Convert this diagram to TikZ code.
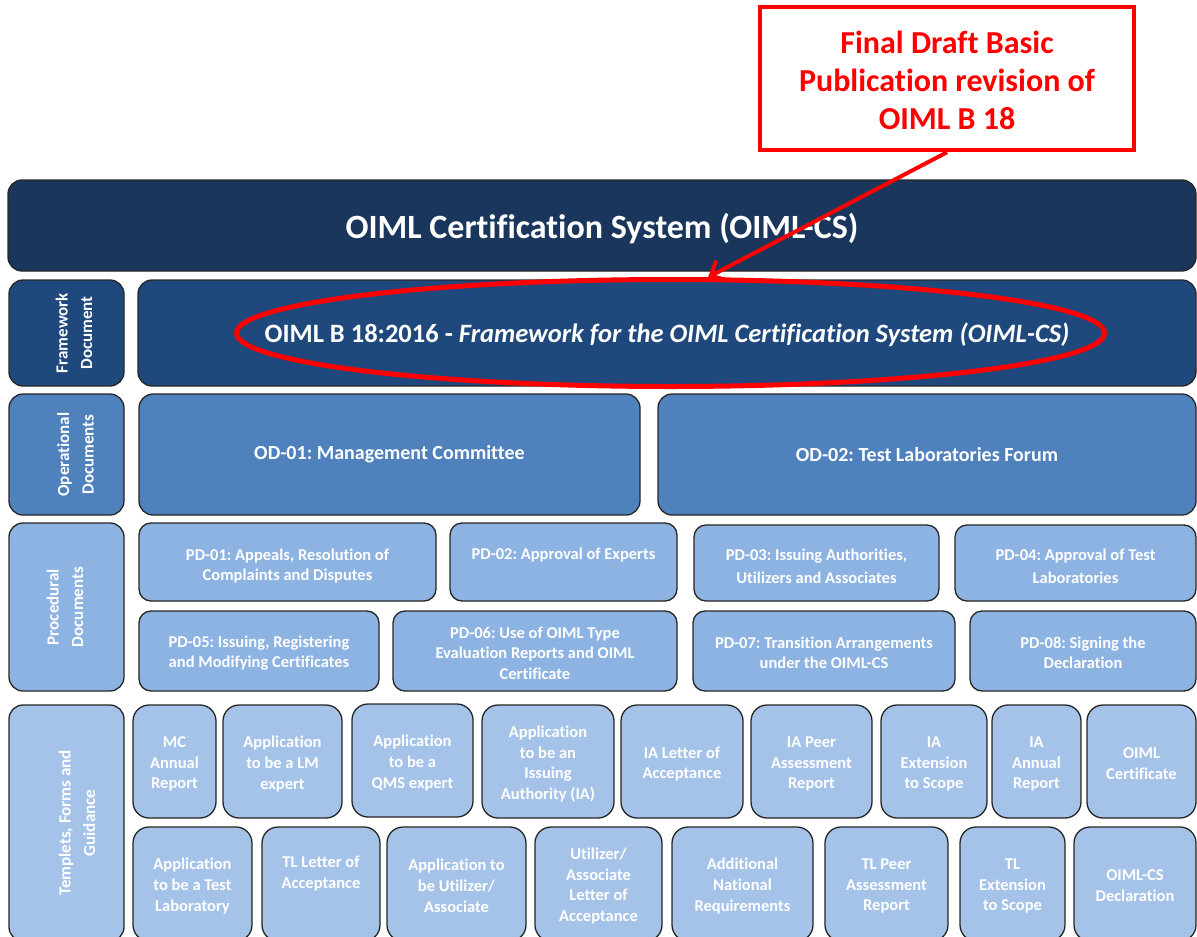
\documentclass[tikz,border=0pt]{standalone}
\usepackage{fontspec}
\setmainfont{Carlito}[Ligatures={NoCommon,NoContextual}]
\frenchspacing
\usetikzlibrary{arrows.meta,shapes.geometric}
\definecolor{navy}{HTML}{1B365D}
\definecolor{fwblue}{HTML}{1F497D}
\definecolor{opblue}{HTML}{4F81BD}
\definecolor{pdblue}{HTML}{8DB3E2}
\definecolor{tfblue}{HTML}{A5C3E8}
\definecolor{edgegray}{HTML}{262626}
\definecolor{alarm}{HTML}{FF0000}
% box: name, x1, y1, x2, y2, style, text, text shift down
\newcommand{\bx}[8]{%
  \node[#6, minimum width={#4-#2}, minimum height={#5-#3}] (#1) at ({(#2+#4)/2},{(#3+#5)/2}) {};
  \node[#6, draw=none, fill=none, minimum width=0pt, minimum height=0pt] (#1t) at ([yshift=-#8pt]#1.center) {#7};}
% side box: name, x1, y1, x2, y2, style, text, text shift right
\newcommand{\sidebx}[8]{%
  \node[#6, minimum width={#4-#2}, minimum height={#5-#3}] (#1) at ({(#2+#4)/2},{(#3+#5)/2}) {};
  \node[#6, draw=none, fill=none, rotate=90] (#1t) at ([xshift=#8pt]#1.center) {#7};}
\tikzset{
  box/.style={draw=edgegray, line width=1.3pt, rounded corners=14pt, text=white, align=center, inner sep=1pt},
  topbar/.style={box, fill=navy, font=\bfseries\fontsize{34}{40}\selectfont},
  fwbox/.style={box, fill=fwblue, font=\bfseries\fontsize{26.5}{32}\selectfont},
  opbox/.style={box, fill=opblue, font=\bfseries\fontsize{20}{24}\selectfont},
  pdbox/.style={box, fill=pdblue, rounded corners=12pt, font=\bfseries\fontsize{16.5}{20.5}\selectfont},
  pdwide/.style={pdbox, font=\bfseries\fontsize{16.5}{23}\selectfont},
  tfbox/.style={box, fill=tfblue, rounded corners=16pt, font=\bfseries\fontsize{16.5}{20.8}\selectfont},
  sidelbl/.style={box, font=\bfseries\fontsize{17}{24.5}\selectfont},
  callout/.style={draw=alarm, line width=4.5pt, fill=white, text=alarm, align=center, font=\bfseries\fontsize{32}{38}\selectfont},
}
\begin{document}
\begin{tikzpicture}[x=1pt,y=-1pt]
\path[use as bounding box, clip] (0,0) rectangle (1197,937);
\fill[white] (0,0) rectangle (1197,937);
% top bar
\bx{sys}{8}{180}{1196}{271}{topbar}{OIML Certification System (OIML-CS)}{3}
% framework
\sidebx{fwside}{9}{280}{124}{386}{sidelbl, fill=fwblue}{Framework\\Document}{7.5}
\bx{fw}{138}{280}{1196}{386}{fwbox}{OIML B 18:2016 - \textit{Framework for the OIML Certification System (OIML-CS)}}{2}
% operational
\sidebx{opside}{9}{394}{124}{515}{sidelbl, fill=opblue}{Operational\\Documents}{9}
\bx{od1}{139}{394}{640}{515}{opbox}{OD-01: Management Committee}{0}
\bx{od2}{658}{394}{1196}{515}{opbox}{OD-02: Test Laboratories Forum}{0}
% procedural
\sidebx{pdside}{9}{523}{124}{691}{sidelbl, fill=pdblue}{Procedural\\Documents}{-1.5}
\bx{pd1}{139}{523}{436}{601}{pdbox}{PD-01: Appeals, Resolution of\\Complaints and Disputes}{4}
\bx{pd2}{450}{523}{677}{601}{pdbox}{PD-02: Approval of Experts\\\strut}{5}
\bx{pd3}{694}{525}{939}{601}{pdwide}{PD-03: Issuing Authorities,\\Utilizers and Associates}{3}
\bx{pd4}{955}{525}{1196}{601}{pdwide}{PD-04: Approval of Test\\Laboratories}{3}
\bx{pd5}{139}{611}{379}{691}{pdbox}{PD-05: Issuing, Registering\\and Modifying Certificates}{2}
\bx{pd6}{393}{611}{677}{691}{pdbox}{PD-06: Use of OIML Type\\Evaluation Reports and OIML\\Certificate}{2}
\bx{pd7}{693}{611}{955}{691}{pdbox}{PD-07: Transition Arrangements\\under the OIML-CS}{2}
\bx{pd8}{970}{611}{1196}{691}{pdbox}{PD-08: Signing the\\Declaration}{2}
% templates
\sidebx{tfside}{9}{705}{124}{941}{sidelbl, fill=tfblue}{Templets, Forms and\\Guidance}{10.5}
\bx{mc}{133}{705}{216}{818}{tfbox}{MC\\Annual\\Report}{2.5}
\bx{lm}{223}{705}{342}{818}{tfbox}{Application\\to be a LM\\expert}{2.5}
\bx{qms}{352}{704}{473}{817}{tfbox}{Application\\to be a\\QMS expert}{2.5}
\bx{iaapp}{482}{705}{614}{818}{tfbox}{Application\\to be an\\Issuing\\Authority (IA)}{2.5}
\bx{ialet}{621}{705}{743}{818}{tfbox}{IA Letter of\\Acceptance}{2.5}
\bx{iapeer}{751}{705}{872}{818}{tfbox}{IA Peer\\Assessment\\Report}{2.5}
\bx{iaext}{881}{705}{987}{818}{tfbox}{IA\\Extension\\to Scope}{2.5}
\bx{iaann}{992}{705}{1081}{818}{tfbox}{IA\\Annual\\Report}{2.5}
\bx{cert}{1087}{705}{1196}{818}{tfbox}{OIML\\Certificate}{2.5}
\bx{tlapp}{133}{827}{252}{941}{tfbox}{Application\\to be a Test\\Laboratory}{2}
\bx{tllet}{262}{827}{380}{941}{tfbox}{TL Letter of\\Acceptance\\\strut}{2}
\bx{utapp}{387}{827}{526}{941}{tfbox}{Application to\\be Utilizer/\\Associate}{2}
\bx{utlet}{535}{827}{662}{941}{tfbox}{Utilizer/\\Associate\\Letter of\\Acceptance}{2}
\bx{addl}{672}{827}{813}{941}{tfbox}{Additional\\National\\Requirements}{2}
\bx{tlpeer}{825}{827}{948}{941}{tfbox}{TL Peer\\Assessment\\Report}{2}
\bx{tlext}{960}{827}{1065}{941}{tfbox}{TL\\Extension\\to Scope}{2}
\bx{decl}{1074}{827}{1196}{941}{tfbox}{OIML-CS\\Declaration}{2}
% highlight
\node[draw=alarm, line width=5pt, ellipse, minimum width=868, minimum height=107, inner sep=0pt] (ring) at (670.5,333) {};
\node[callout, minimum width=374, minimum height=143, inner sep=0pt] (note) at (947,78.5) {};
\node[callout, draw=none, fill=none] (notet) at ([yshift=-1.5pt]note.center) {Final Draft Basic\\Publication revision of\\OIML B 18};
\draw[alarm, line width=4pt, -{Straight Barb[length=12pt, width=22pt, line width=4pt]}] (note.south) -- (ring.56);
\end{tikzpicture}
\end{document}
